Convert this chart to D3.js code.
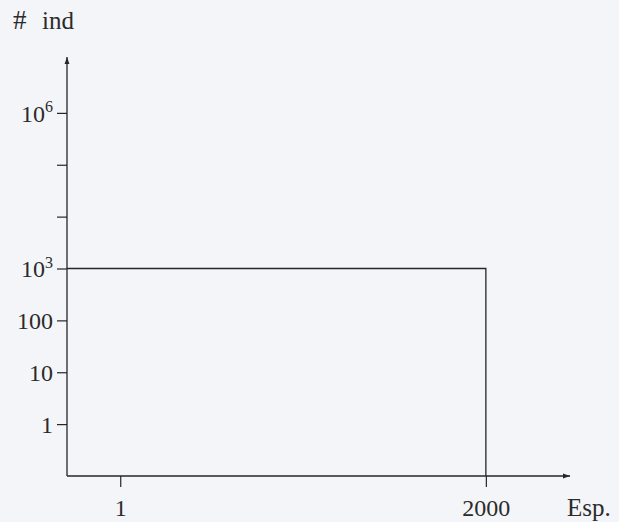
<!DOCTYPE html>
<html>
<head>
<meta charset="utf-8">
<script src="https://cdn.jsdelivr.net/npm/d3@7"></script>
<style>
  html, body { margin: 0; padding: 0; background: #f4f5f9; }
  svg { display: block; }
  text { font-family: "Liberation Serif", "DejaVu Serif", serif; fill: #2b2b2b; }
</style>
</head>
<body>
<script>
// Number of species and individuals per species (uniform community)
const species = [2000];
const individuals = [1000];

// Axis ticks
const yTickValues = [1, 10, 100, 1e3, 1e4, 1e5, 1e6];
const yLabeled = [1, 10, 100, 1e3, 1e6];
const xTickValues = [1, 2000];
const xTickLabels = ["1", "2000"];
const yAxisTitle = ["#", "ind"];
const xAxisTitle = "Esp.";

const width = 619, height = 522;
const ink = "#262626";
const fs = 24;

const svg = d3.select("body").append("svg")
  .attr("width", width).attr("height", height);

const x = d3.scaleLinear().domain([-290, 2460]).range([67, 570]);
const y = d3.scaleLog().domain([0.1, 1e7]).range([476, 61]);

// Arrow heads for the axes
svg.append("defs").append("marker")
  .attr("id", "arrow")
  .attr("viewBox", "0 0 10 10")
  .attr("refX", 10).attr("refY", 5)
  .attr("markerWidth", 9).attr("markerHeight", 7)
  .attr("markerUnits", "userSpaceOnUse")
  .attr("orient", "auto")
  .append("path")
  .attr("d", "M0,1.5 L10,5 L0,8.5 Z")
  .attr("fill", ink);

// Y axis (log)
const yAxis = d3.axisLeft(y)
  .tickValues(yTickValues)
  .tickSize(10)
  .tickSizeOuter(0)
  .tickPadding(4)
  .tickFormat(() => "");

const gy = svg.append("g")
  .attr("transform", `translate(${x(-290)},0)`)
  .call(yAxis);
gy.select(".domain").remove();
gy.selectAll(".tick line").attr("stroke", ink).attr("stroke-width", 1.2);
gy.selectAll(".tick text")
  .attr("font-size", fs)
  .attr("dy", "0.35em")
  .each(function(d) {
    const t = d3.select(this);
    if (!yLabeled.includes(d)) return;
    if (d < 1000) {
      t.text(String(d));
    } else {
      t.text("10");
      t.append("tspan")
        .attr("font-size", 16)
        .attr("dy", "-0.6em")
        .text(Math.round(Math.log10(d)));
    }
  });

// X axis
const xAxis = d3.axisBottom(x)
  .tickValues(xTickValues)
  .tickSize(11)
  .tickSizeOuter(0)
  .tickPadding(12)
  .tickFormat((d, i) => xTickLabels[i]);

const gx = svg.append("g")
  .attr("transform", `translate(0,${y(0.1)})`)
  .call(xAxis);
gx.select(".domain").remove();
gx.selectAll(".tick line").attr("stroke", ink).attr("stroke-width", 1.2);
gx.selectAll(".tick text").attr("font-size", fs);

// Axis lines with arrows
svg.append("line")
  .attr("x1", x(-290)).attr("y1", y(0.1))
  .attr("x2", x(-290)).attr("y2", y(1e7) - 4)
  .attr("stroke", ink).attr("stroke-width", 1.3)
  .attr("marker-end", "url(#arrow)");
svg.append("line")
  .attr("x1", x(-290)).attr("y1", y(0.1))
  .attr("x2", x(2460)).attr("y2", y(0.1))
  .attr("stroke", ink).attr("stroke-width", 1.3)
  .attr("marker-end", "url(#arrow)");

// Community: every species holds the same number of individuals
const line = d3.line().x(d => x(d[0])).y(d => y(d[1]));
const pts = [
  [-290, individuals[0]],
  [species[0], individuals[0]],
  [species[0], 0.1]
];
svg.append("path")
  .attr("d", line(pts))
  .attr("fill", "none")
  .attr("stroke", ink)
  .attr("stroke-width", 1.3);

// Axis titles
const yt = svg.append("text").attr("x", 13).attr("y", 29).attr("font-size", 25);
yt.append("tspan").attr("font-size", 27).text(yAxisTitle[0]);
yt.append("tspan").attr("x", 42).text(yAxisTitle[1]);
svg.append("text")
  .attr("x", 567).attr("y", 516)
  .attr("font-size", 25)
  .text(xAxisTitle);
</script>
</body>
</html>
